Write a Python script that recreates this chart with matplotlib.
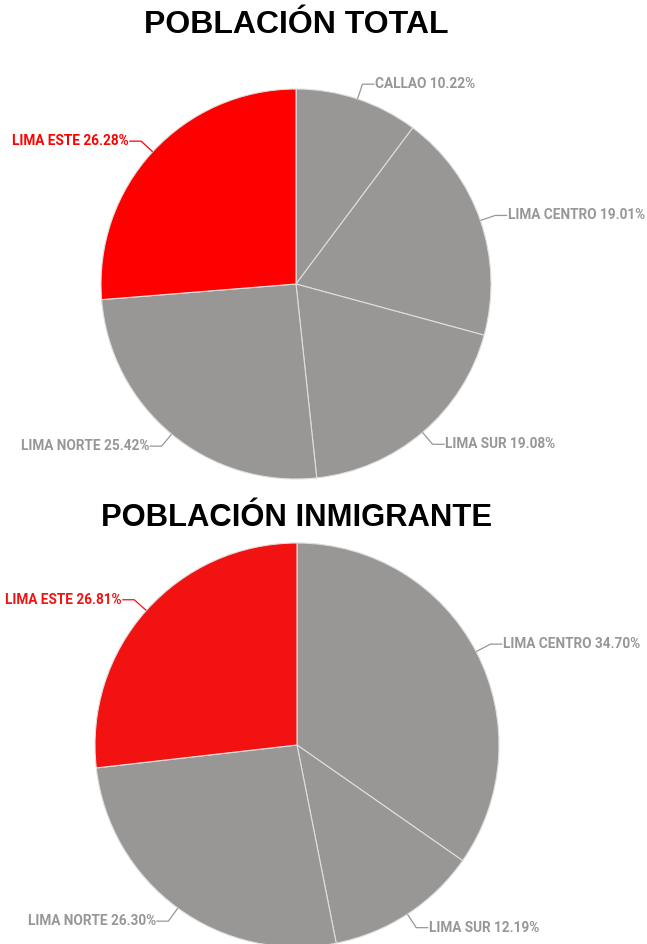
import numpy as np
import matplotlib
matplotlib.use("Agg")
import matplotlib.pyplot as plt

# ---- data ----
title_total = "POBLACIÓN TOTAL"
cats_total = ["CALLAO", "LIMA CENTRO", "LIMA SUR", "LIMA NORTE", "LIMA ESTE"]
vals_total = [10.22, 19.01, 19.08, 25.42, 26.28]

title_inm = "POBLACIÓN INMIGRANTE"
cats_inm = ["LIMA CENTRO", "LIMA SUR", "LIMA NORTE", "LIMA ESTE"]
vals_inm = [34.70, 12.19, 26.30, 26.81]

highlight = "LIMA ESTE"

# ---- style ----
W, H = 647, 944
GREY = "#989795"
GREY_TXT = "#979797"
RED_TOP = "#ff0000"
RED_BOT = "#f31212"

fig = plt.figure(figsize=(W / 100, H / 100), dpi=100)
ax = fig.add_axes([0, 0, 1, 1])


def draw_pie(cats, vals, cx, cy, r, red, title, ty, tsize):
    cy_d = H - cy
    colors = [red if c == highlight else GREY for c in cats]
    wedges, _ = ax.pie(vals, colors=colors, startangle=90, counterclock=False,
                       center=(cx, cy_d), radius=r,
                       wedgeprops=dict(edgecolor="#dedede", linewidth=0.8))
    total = sum(vals)
    cum = 0.0
    for c, v in zip(cats, vals):
        mid = (cum + v / 2) / total * 2 * np.pi
        cum += v
        sx, sy = cx + r * np.sin(mid), cy_d + r * np.cos(mid)
        ex, ey = cx + 1.08 * r * np.sin(mid), cy_d + 1.08 * r * np.cos(mid)
        side = 1 if np.sin(mid) >= 0 else -1
        hx = ex + side * 12
        is_red = c == highlight
        lc = red if is_red else GREY_TXT
        ax.plot([sx, ex, hx], [sy, ey, ey], color=lc, lw=0.9,
                solid_capstyle="butt", zorder=3)
        ax.text(hx + side * 0.5, ey, f"{c} {v:.2f}%",
                ha="left" if side > 0 else "right", va="center",
                color=lc, fontsize=9.8, fontfamily="Roboto",
                fontweight="bold", zorder=4)
    ax.text(cx, H - ty, title, ha="center", va="center",
            fontsize=tsize, fontweight="bold", fontfamily="Liberation Sans",
            color="black")


draw_pie(cats_total, vals_total, 296, 284, 195, RED_TOP, title_total, 25, 23)
draw_pie(cats_inm, vals_inm, 297, 745, 202, RED_BOT, title_inm, 518, 22.3)

ax.set_xlim(0, W)
ax.set_ylim(0, H)
ax.set_aspect("auto")
ax.axis("off")

fig.savefig("out.png", dpi=100)
